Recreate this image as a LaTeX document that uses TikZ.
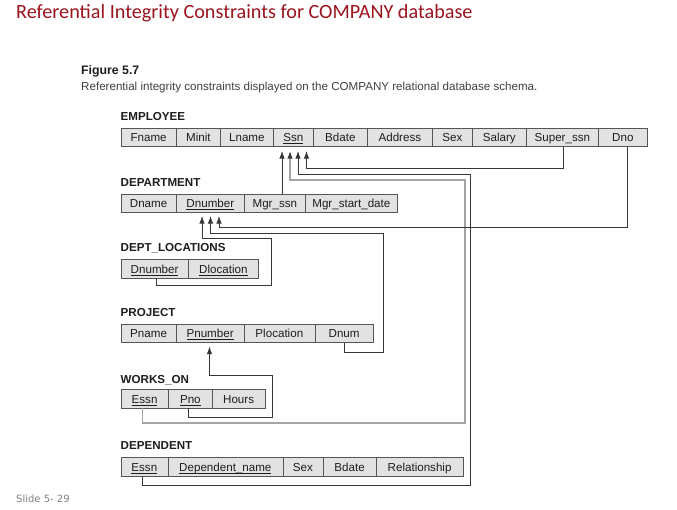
\documentclass[tikz,border=0pt]{standalone}
\usepackage{fontspec}
\setmainfont{Liberation Sans}
\newfontfamily\titlefont{Carlito}
\newfontfamily\slidefont{DejaVu Sans}
\usetikzlibrary{arrows.meta}
\definecolor{titlered}{RGB}{155,20,30}
\definecolor{cellfill}{RGB}{226,226,226}
\definecolor{celldraw}{RGB}{85,85,85}
\definecolor{linedark}{RGB}{55,55,55}
\definecolor{linegray}{RGB}{165,165,165}
\definecolor{txt}{RGB}{30,30,30}
\newcommand\ulx[1]{\setbox0\hbox{#1}\rlap{\rule[-2pt]{\wd0}{0.7pt}}\box0}
\begin{document}
\begin{tikzpicture}[x=1pt,y=-1pt,
 cell/.style={draw=celldraw, fill=cellfill, line width=0.7pt, inner sep=0pt,
   minimum height=18.5pt, text height=9.5pt, text depth=0pt, anchor=north west,
   font=\fontsize{11.6}{13}\selectfont, text=txt},
 lbl/.style={anchor=base west, inner sep=0pt, font=\bfseries\fontsize{11.6}{13}\selectfont, text=txt},
 fk/.style={draw=linedark, line width=0.8pt, -{Latex[length=7.5pt,width=5.4pt,color=linedark]}},
 fkg/.style={fk, draw=linegray, line width=1.1pt}]
\fill[white] (0,0) rectangle (677,509);
\useasboundingbox (0,0) rectangle (677,509);

% title and captions
\node[anchor=base west, inner sep=0pt, font=\titlefont\fontsize{20.2}{24}\selectfont, text=titlered] (title) at (16,18) {Referential Integrity Constraints for COMPANY database};
\node[anchor=base west, inner sep=0pt, font=\bfseries\fontsize{12.3}{14}\selectfont, text=txt] (fig) at (81,74.5) {Figure 5.7};
\node[anchor=base west, inner sep=0pt, font=\fontsize{11.6}{14}\selectfont, text=txt!85] (cap) at (81,90) {Referential integrity constraints displayed on the COMPANY relational database schema.};
\node[anchor=base west, inner sep=0pt, font=\slidefont\fontsize{10}{12}\selectfont, text=gray] (slide) at (16,502.5) {Slide 5- 29};

% EMPLOYEE
\node[lbl] (lEmp) at (120.5,120) {EMPLOYEE};
\node[cell, minimum width=55.5pt] (eFname) at (120.5,127.5) {Fname};
\node[cell, minimum width=44pt] (eMinit) at (176,127.5) {Minit};
\node[cell, minimum width=53pt] (eLname) at (220,127.5) {Lname};
\node[cell, minimum width=40pt] (eSsn) at (273,127.5) {\ulx{Ssn}};
\node[cell, minimum width=54pt] (eBdate) at (313,127.5) {Bdate};
\node[cell, minimum width=65pt] (eAddr) at (367,127.5) {Address};
\node[cell, minimum width=40pt] (eSex) at (432,127.5) {Sex};
\node[cell, minimum width=54pt] (eSalary) at (472,127.5) {Salary};
\node[cell, minimum width=72pt] (eSuper) at (526,127.5) {Super\_ssn};
\node[cell, minimum width=49pt] (eDno) at (598,127.5) {Dno};

% DEPARTMENT
\node[lbl] (lDep) at (120.5,186) {DEPARTMENT};
\node[cell, minimum width=55.5pt] (dDname) at (120.5,193.5) {Dname};
\node[cell, minimum width=68pt] (dDnum) at (176,193.5) {\ulx{Dnumber}};
\node[cell, minimum width=61pt] (dMgr) at (244,193.5) {Mgr\_ssn};
\node[cell, minimum width=92pt] (dStart) at (305,193.5) {Mgr\_start\_date};

% DEPT_LOCATIONS
\node[lbl] (lLoc) at (120.5,251) {DEPT\_LOCATIONS};
\node[cell, minimum width=67.5pt] (lDnum) at (120.5,259) {\ulx{Dnumber}};
\node[cell, minimum width=70pt] (lDloc) at (188,259) {\ulx{Dlocation}};

% PROJECT
\node[lbl] (lProj) at (120.5,316.5) {PROJECT};
\node[cell, minimum width=55.5pt] (pPname) at (120.5,323.5) {Pname};
\node[cell, minimum width=67.5pt] (pPnum) at (176,323.5) {\ulx{Pnumber}};
\node[cell, minimum width=71pt] (pPloc) at (243.5,323.5) {Plocation};
\node[cell, minimum width=58.5pt] (pDnum) at (314.5,323.5) {Dnum};

% WORKS_ON
\node[lbl] (lWork) at (120.5,383) {WORKS\_ON};
\node[cell, minimum width=47.5pt] (wEssn) at (120.5,389) {\ulx{Essn}};
\node[cell, minimum width=44pt] (wPno) at (168,389) {\ulx{Pno}};
\node[cell, minimum width=52.5pt] (wHours) at (212,389) {Hours};

% DEPENDENT
\node[lbl] (lDpd) at (120.5,449.5) {DEPENDENT};
\node[cell, minimum width=47pt] (xEssn) at (120.5,457) {\ulx{Essn}};
\node[cell, minimum width=115pt] (xName) at (167.5,457) {\ulx{Dependent\_name}};
\node[cell, minimum width=40pt] (xSex) at (282.5,457) {Sex};
\node[cell, minimum width=53.5pt] (xBdate) at (322.5,457) {Bdate};
\node[cell, minimum width=86.5pt] (xRel) at (376,457) {Relationship};

% arrow tip coordinates
\coordinate (s1) at (282,151);
\coordinate (s2) at (290,151);
\coordinate (s3) at (298,151);
\coordinate (s4) at (306.5,151);
\coordinate (t1) at (202,216);
\coordinate (t2) at (210.5,216);
\coordinate (t3) at (219,216);
\coordinate (u1) at (209.5,346.5);

% connectors to Ssn
\draw[fk] (dMgr.north -| s1) -- (s1);
\draw[fkg] ([xshift=-2.25pt]wEssn.south) |- (465,423) |- (290,180) -- (s2);
\draw[fk] ([xshift=-2pt]xEssn.south) |- (470,485) |- (298,174) -- (s3);
\draw[fk] ([xshift=1pt]eSuper.south) |- (306.5,168) -- (s4);

% connectors to Dnumber
\draw[fk] ([xshift=1.5pt]lDnum.south) |- (271,285) |- (202,238) -- (t1);
\draw[fk] (pDnum.south) |- (383,352) |- (210.5,233) -- (t2);
\draw[fk] ([xshift=4.5pt]eDno.south) |- (219,227) -- (t3);

% connector to Pnumber
\draw[fk] ([xshift=-2.3pt]wPno.south) |- (272,417) |- (209.5,375) -- (u1);
\end{tikzpicture}
\end{document}
